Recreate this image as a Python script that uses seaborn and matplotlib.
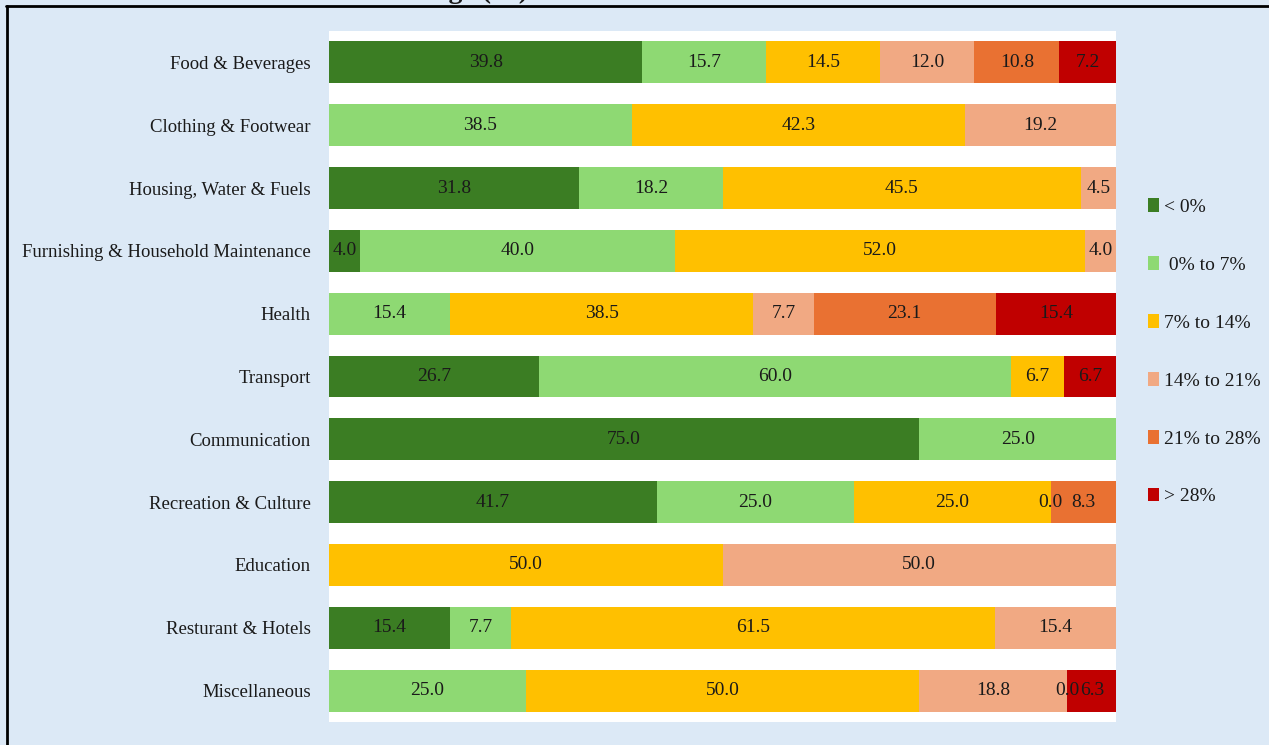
import matplotlib
matplotlib.use("Agg")
import matplotlib.pyplot as plt
import seaborn as sns
import numpy as np
import pandas as pd
from matplotlib.patches import Patch
from matplotlib.lines import Line2D

nan = np.nan

categories = [
    "Food & Beverages",
    "Clothing & Footwear",
    "Housing, Water & Fuels",
    "Furnishing & Household Maintenance",
    "Health",
    "Transport",
    "Communication",
    "Recreation & Culture",
    "Education",
    "Resturant & Hotels",
    "Miscellaneous",
]

series_names = ["< 0%", " 0% to 7%", "7% to 14%", "14% to 21%", "21% to 28%", "> 28%"]

below_0 = [39.8, nan, 31.8, 4.0, nan, 26.7, 75.0, 41.7, nan, 15.4, nan]
from_0_to_7 = [15.7, 38.5, 18.2, 40.0, 15.4, 60.0, 25.0, 25.0, nan, 7.7, 25.0]
from_7_to_14 = [14.5, 42.3, 45.5, 52.0, 38.5, 6.7, nan, 25.0, 50.0, 61.5, 50.0]
from_14_to_21 = [12.0, 19.2, 4.5, 4.0, 7.7, nan, nan, 0.0, 50.0, 15.4, 18.8]
from_21_to_28 = [10.8, nan, nan, nan, 23.1, nan, nan, 8.3, nan, nan, 0.0]
above_28 = [7.2, nan, nan, nan, 15.4, 6.7, nan, nan, nan, nan, 6.3]

series_values = [below_0, from_0_to_7, from_7_to_14, from_14_to_21, from_21_to_28, above_28]
colors = ["#3B7D23", "#8ED973", "#FFC000", "#F1A983", "#E97132", "#C00000"]

bg = "#DCE9F6"
serif = ["Liberation Serif", "DejaVu Serif"]

sns.set_theme(style="white")
plt.rcParams["font.family"] = serif

fig = plt.figure(figsize=(12.69, 7.45), dpi=100, facecolor=bg)
ax = fig.add_axes([329 / 1269, 23 / 745, 787 / 1269, 691 / 745])
ax.set_facecolor("white")

vals = np.array([[v for v in s] for s in series_values], dtype=float)  # (6, n)
cum = np.cumsum(np.nan_to_num(vals), axis=0)

for i in reversed(range(len(series_names))):
    df = pd.DataFrame({"category": categories, "value": cum[i]})
    sns.barplot(data=df, x="value", y="category", orient="h", color=colors[i],
                saturation=1, width=0.667, errorbar=None, linewidth=0, ax=ax)

for i in range(len(series_names)):
    for j in range(len(categories)):
        v = vals[i, j]
        if np.isnan(v):
            continue
        ax.text(cum[i, j] - v / 2, j, f"{v:.1f}", ha="center", va="center",
                fontsize=14, color="#1a1a1a")

ax.set_xlim(0, 100)
ax.set_ylim(10.5, -0.5)
ax.set_xlabel("")
ax.set_ylabel("")
ax.set_xticks([])
ax.tick_params(axis="y", length=0, pad=13, labelsize=13.5, labelcolor="#1a1a1a")
for sp in ax.spines.values():
    sp.set_visible(False)

handles = [Patch(facecolor=c, edgecolor="none") for c in colors]
fig.legend(handles, series_names, loc="upper left",
           bbox_to_anchor=(1130 / 1269, 1 - 181 / 745), frameon=False,
           fontsize=14, handlelength=0.6, handleheight=0.7, handletextpad=0.25,
           labelspacing=2.07, labelcolor="#1a1a1a")

# partially visible title (cut by the top edge) and frame border
fig.text(528 / 1269, 1 + 2 / 745, "Items Distribution in Inflation Range (%)",
         ha="right", va="baseline", fontsize=20, fontweight="bold", color="#1a1a1a")
fig.add_artist(Line2D([6 / 1269, 1], [1 - 5.5 / 745, 1 - 5.5 / 745],
                      transform=fig.transFigure, color="black", lw=2))
fig.add_artist(Line2D([7 / 1269, 7 / 1269], [0, 1 - 5.5 / 745],
                      transform=fig.transFigure, color="black", lw=2))

fig.savefig("out.png", dpi=100, facecolor=bg)
